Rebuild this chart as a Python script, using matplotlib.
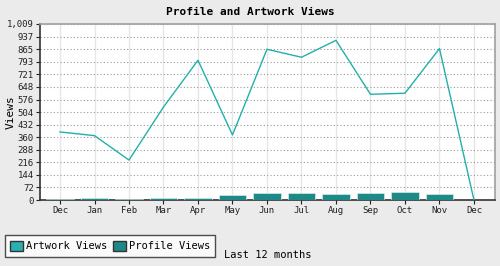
import matplotlib.pyplot as plt
import numpy as np
from matplotlib.patches import Patch

months = ["Dec", "Jan", "Feb", "Mar", "Apr", "May", "Jun",
          "Jul", "Aug", "Sep", "Oct", "Nov", "Dec"]
artwork_views = [390, 369, 229, 533, 801, 373, 864, 818, 915, 606, 612, 868, 0]
profile_views = [8, 13, 8, 13, 13, 30, 42, 42, 36, 42, 48, 36]
y_ticks = [0, 72, 144, 216, 288, 360, 432, 504, 576, 648, 721, 793, 865, 937, 1009]
y_labels = ["0", "72", "144", "216", "288", "360", "432", "504", "576",
            "648", "721", "793", "865", "937", "1,009"]

line_color = "#22b0aa"
bar_color = "#1e8a87"
bg = "#ebebeb"

plt.rcParams['font.family'] = ['DejaVu Sans Mono']

fig = plt.figure(figsize=(5, 2.66), dpi=100, facecolor=bg)
ax = fig.add_axes([0.08, 0.248, 0.91, 0.662])
ax.set_facecolor("white")

x = np.arange(len(months))
ax.bar(x[:len(profile_views)], profile_views, width=0.8, color=bar_color,
       edgecolor="#e8f4f4", linewidth=0.4, zorder=3)
ax.plot(x, artwork_views, color=line_color, linewidth=1, zorder=4)

ax.set_xlim(-0.58, 12.61)
ax.set_ylim(0, 1009)
ax.set_xticks(x)
ax.set_xticklabels(months, fontsize=6.5)
ax.set_yticks(y_ticks)
ax.set_yticklabels(y_labels, fontsize=6.5)
ax.tick_params(length=3, width=0.8, pad=1.5, colors="#222222")

ax.grid(axis="y", linestyle=(0, (1, 2)), color="#999999", linewidth=0.8, zorder=1)
ax.grid(axis="x", linestyle="-", color="#e6e6e6", linewidth=1, zorder=1)
ax.set_axisbelow(True)

for side in ["left", "bottom"]:
    ax.spines[side].set_color("#333333")
    ax.spines[side].set_linewidth(1.2)
for side in ["top", "right"]:
    ax.spines[side].set_color("#a0a0a0")
    ax.spines[side].set_linewidth(1.2)

fig.text(0.022, 0.58, "Views", rotation=90, ha="center", va="center", fontsize=8)
fig.text(0.5, 0.955, "Profile and Artwork Views", ha="center", va="center",
         fontsize=8, fontweight="bold")

handles = [Patch(facecolor="#2ab0b0", edgecolor="#333333", label="Artwork Views"),
           Patch(facecolor=bar_color, edgecolor="#333333", label="Profile Views")]
leg = fig.legend(handles=handles, loc="lower left", bbox_to_anchor=(0.01, 0.035),
                 ncol=2, fontsize=7.5, frameon=True, fancybox=False,
                 handlelength=1.2, handleheight=1.2, handletextpad=0.3,
                 columnspacing=0.6, borderpad=0.5, borderaxespad=0)
leg.get_frame().set_edgecolor("#222222")
leg.get_frame().set_linewidth(1)
fig.text(0.448, 0.04, "Last 12 months", fontsize=7.5, va="center")

plt.savefig("out.png", dpi=100, facecolor=bg)
